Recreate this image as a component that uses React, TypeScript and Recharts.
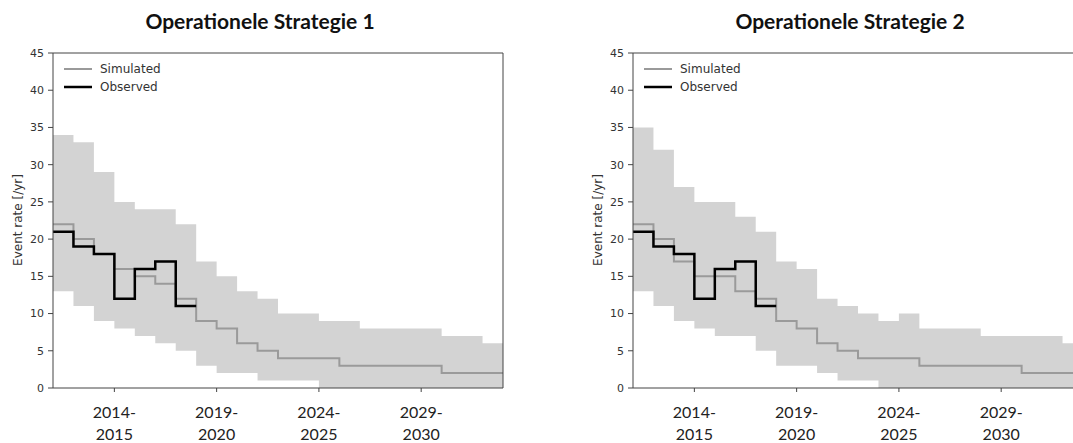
import React from "react";
import {
  ComposedChart,
  Area,
  Line,
  XAxis,
  YAxis,
  ReferenceLine,
} from "recharts";

// gas years (start of each yearly step), last entry closes the final step
const years = [
  2011, 2012, 2013, 2014, 2015, 2016, 2017, 2018, 2019, 2020, 2021, 2022,
  2023, 2024, 2025, 2026, 2027, 2028, 2029, 2030, 2031, 2032, 2033,
];

const observed = [
  21, 19, 18, 12, 16, 17, 11, 11, null, null, null, null, null, null, null,
  null, null, null, null, null, null, null, null,
];

// Operationele Strategie 1
const simulated1 = [
  22, 20, 18, 16, 15, 14, 12, 9, 8, 6, 5, 4, 4, 4, 3, 3, 3, 3, 3, 2, 2, 2, 2,
];
const upper1 = [
  34, 33, 29, 25, 24, 24, 22, 17, 15, 13, 12, 10, 10, 9, 9, 8, 8, 8, 8, 7, 7,
  6, 6,
];
const lower1 = [
  13, 11, 9, 8, 7, 6, 5, 3, 2, 2, 1, 1, 1, 0, 0, 0, 0, 0, 0, 0, 0, 0, 0,
];

// Operationele Strategie 2
const simulated2 = [
  22, 20, 17, 15, 15, 13, 12, 9, 8, 6, 5, 4, 4, 4, 3, 3, 3, 3, 3, 2, 2, 2, 2,
];
const upper2 = [
  35, 32, 27, 25, 25, 23, 21, 17, 16, 12, 11, 10, 9, 10, 8, 8, 8, 7, 7, 7, 7,
  6, 6,
];
const lower2 = [
  13, 11, 9, 8, 7, 7, 5, 3, 3, 2, 1, 1, 0, 0, 0, 0, 0, 0, 0, 0, 0, 0, 0,
];

const xTicks = [2014, 2019, 2024, 2029];
const xTickLabels = [
  ["2014-", "2015"],
  ["2019-", "2020"],
  ["2024-", "2025"],
  ["2029-", "2030"],
];
const yTicks = [0, 5, 10, 15, 20, 25, 30, 35, 40, 45];

const AXIS = "#444";
const BAND = "#d3d3d3";
const SIM = "#9a9a9a";

const buildRows = (sim: number[], low: number[], high: number[]) =>
  years.map((year, i) => ({
    year,
    band: [low[i], high[i]],
    sim: sim[i],
    obs: observed[i],
  }));

const YearTick = (props: any) => {
  const { x, y, payload } = props;
  const lines = xTickLabels[xTicks.indexOf(payload.value)] || [];
  return (
    <g>
      {lines.map((t, i) => (
        <text
          key={i}
          x={x}
          y={y + 24 + i * 21.5}
          textAnchor="middle"
          fontFamily="Lato"
          fontSize={16}
          fill="#222"
        >
          {t}
        </text>
      ))}
    </g>
  );
};

const Panel = ({ data }: { data: ReturnType<typeof buildRows> }) => (
  <ComposedChart
    width={520}
    height={443}
    data={data}
    margin={{ top: 53, right: 17, left: 0, bottom: 0 }}
  >
    <XAxis
      dataKey="year"
      type="number"
      domain={[2011, 2033]}
      ticks={xTicks}
      interval={0}
      allowDataOverflow
      height={55}
      stroke={AXIS}
      tickSize={4}
      tickMargin={2}
      tick={<YearTick />}
    />
    <YAxis
      type="number"
      domain={[0, 45]}
      ticks={yTicks}
      interval={0}
      width={53}
      stroke={AXIS}
      tickSize={5}
      tickMargin={4}
      tick={{ fontFamily: "DejaVu Sans", fontSize: 11, fill: "#333" }}
    />
    <Area
      type="stepAfter"
      dataKey="band"
      fill={BAND}
      fillOpacity={1}
      stroke="none"
      isAnimationActive={false}
    />
    <Line
      type="stepAfter"
      dataKey="sim"
      stroke={SIM}
      strokeWidth={2}
      dot={false}
      activeDot={false}
      isAnimationActive={false}
    />
    <Line
      type="stepAfter"
      dataKey="obs"
      stroke="#000"
      strokeWidth={2.5}
      dot={false}
      activeDot={false}
      isAnimationActive={false}
    />
    <ReferenceLine y={45} stroke={AXIS} />
    <ReferenceLine x={2033} stroke={AXIS} />
  </ComposedChart>
);

const Legend = ({ x }: { x: number }) => (
  <g fontFamily="DejaVu Sans" fontSize={12} fill="#333">
    <line x1={x} x2={x + 28} y1={69} y2={69} stroke={SIM} strokeWidth={2} />
    <text x={x + 36} y={73.3}>
      Simulated
    </text>
    <line x1={x} x2={x + 28} y1={87} y2={87} stroke="#000" strokeWidth={2.5} />
    <text x={x + 36} y={91.3}>
      Observed
    </text>
  </g>
);

export default function App() {
  const rows1 = buildRows(simulated1, lower1, upper1);
  const rows2 = buildRows(simulated2, lower2, upper2);
  return (
    <div
      style={{
        position: "fixed",
        left: 0,
        top: 0,
        width: 1073,
        height: 443,
        overflow: "hidden",
        background: "#fff",
      }}
    >
      <div style={{ position: "absolute", left: 0, top: 0 }}>
        <Panel data={rows1} />
      </div>
      <div style={{ position: "absolute", left: 580, top: 0 }}>
        <Panel data={rows2} />
      </div>
      <svg
        width={1073}
        height={443}
        style={{ position: "absolute", left: 0, top: 0, pointerEvents: "none" }}
      >
        <text
          x={260}
          y={28.5}
          textAnchor="middle"
          fontFamily="Lato"
          fontWeight="bold"
          fontSize={21}
          fill="#111"
        >
          Operationele Strategie 1
        </text>
        <text
          x={850}
          y={28.5}
          textAnchor="middle"
          fontFamily="Lato"
          fontWeight="bold"
          fontSize={21}
          fill="#111"
        >
          Operationele Strategie 2
        </text>
        <text
          transform="translate(21.5,220) rotate(-90)"
          textAnchor="middle"
          fontFamily="DejaVu Sans"
          fontSize={12}
          fill="#333"
        >
          Event rate [/yr]
        </text>
        <text
          transform="translate(601.5,220) rotate(-90)"
          textAnchor="middle"
          fontFamily="DejaVu Sans"
          fontSize={12}
          fill="#333"
        >
          Event rate [/yr]
        </text>
        <Legend x={64} />
        <Legend x={644} />
      </svg>
    </div>
  );
}
